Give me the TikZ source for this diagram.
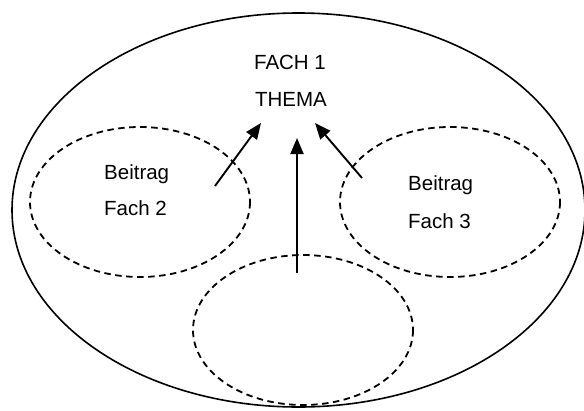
\documentclass[tikz,border=0pt]{standalone}
\usepackage{fontspec}
\setmainfont{Liberation Sans}
\usetikzlibrary{arrows.meta}
\begin{document}
\begin{tikzpicture}[x=1pt,y=-1pt,
  outer/.style={draw=black,line width=1.6pt},
  sub/.style={draw=black,line width=1.8pt,dash pattern=on 6.5pt off 4.5pt},
  lbl/.style={font=\fontsize{20.5pt}{35pt}\selectfont,align=left,inner sep=0pt},
  arr/.style={line width=1.9pt,-{Triangle[length=16pt,width=13pt]}}]
\useasboundingbox (0,0) rectangle (584,410);
\draw[outer] (298.5,210) ellipse [x radius=286.5, y radius=197];
\draw[sub] (140,202) ellipse [x radius=110, y radius=75];
\draw[sub] (450,202) ellipse [x radius=110, y radius=75];
\draw[sub] (303,330) ellipse [x radius=110, y radius=75];
\node[lbl] (f1) at (290,62) {FACH 1};
\node[lbl] (th) at (291,99) {THEMA};
\node[lbl,anchor=west] (b2) at (104,174) {Beitrag};
\node[lbl,anchor=west] (f2) at (104,208) {Fach 2};
\node[lbl,anchor=west] (b3) at (408,185) {Beitrag};
\node[lbl,anchor=west] (f3) at (408,221) {Fach 3};
\coordinate (s2) at (215,186);
\coordinate (t2) at (261,123);
\coordinate (s3) at (362,178);
\coordinate (t3) at (315,123);
\coordinate (sm) at (297,273);
\coordinate (tm) at (297,138);
\draw[arr] (s2) -- (t2);
\draw[arr] (s3) -- (t3);
\draw[arr] (sm) -- (tm);
\end{tikzpicture}
\end{document}
